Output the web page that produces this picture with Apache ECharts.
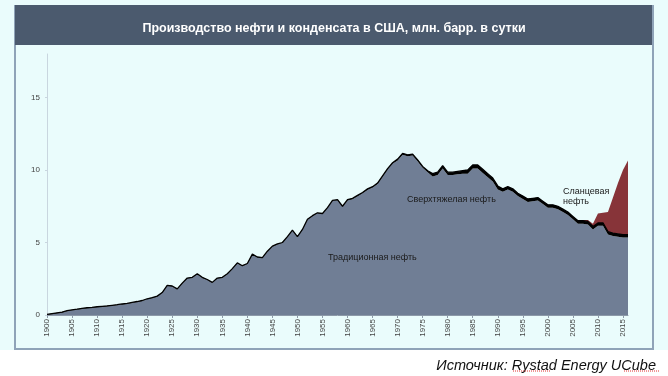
<!DOCTYPE html>
<html>
<head>
<meta charset="utf-8">
<script src="https://cdn.jsdelivr.net/npm/echarts@6/dist/echarts.min.js"></script>
<style>
  html, body { margin: 0; padding: 0; background: #ffffff; }
  #bg { position: absolute; left: 0; top: 0; width: 668px; height: 350px; background: #eafcfc; }
  #frame { position: absolute; left: 14px; top: 5px; width: 636px; height: 341px; border: 2px solid #8fa3b8; background: #eafcfc; }
  #bar { position: absolute; left: 15px; top: 5px; width: 637px; height: 40px; background: #4b5a6e; }
  #chart { position: absolute; left: 0; top: 0; width: 668px; height: 376px; }
</style>
</head>
<body>
<div id="bg"></div>
<div id="frame"></div>
<div id="bar"></div>
<div id="chart"></div>
<script>
  // годы 1900..2016
  var years = [];
  for (var y = 1900; y <= 2016; y++) years.push(String(y));

  // традиционная нефть, млн барр. в сутки
  var conventional = [
    0.01, 0.06, 0.11, 0.16, 0.26, 0.32, 0.36, 0.41, 0.46, 0.49,
    0.53, 0.56, 0.59, 0.63, 0.67, 0.72, 0.76, 0.83, 0.89, 0.96,
    1.08, 1.16, 1.26, 1.51, 2.01, 1.96, 1.76, 2.16, 2.51, 2.56,
    2.81, 2.56, 2.41, 2.21, 2.51, 2.56, 2.81, 3.16, 3.56, 3.36,
    3.51, 4.16, 3.96, 3.91, 4.36, 4.71, 4.86, 4.96, 5.36, 5.81,
    5.36, 5.86, 6.56, 6.81, 7.01, 6.96, 7.36, 7.86, 7.91, 7.46,
    7.89, 7.99, 8.19, 8.39, 8.64, 8.79, 9.04, 9.54, 10.04, 10.44,
    10.65, 11.05, 10.95, 11.0, 10.6, 10.15, 9.85, 9.55, 9.65, 10.1,
    9.65, 9.65, 9.7, 9.75, 9.75, 10.1, 10.1, 9.8, 9.5, 9.2,
    8.65, 8.5, 8.65, 8.5, 8.2, 8.0, 7.8, 7.85, 7.9, 7.65,
    7.4, 7.4, 7.3, 7.1, 6.9, 6.6, 6.3, 6.3, 6.25, 5.9,
    6.15, 6.15, 5.55, 5.45, 5.4, 5.35, 5.35
  ];

  // сверхтяжелая нефть
  var extraHeavy = [
    0.04, 0.04, 0.04, 0.04, 0.04, 0.04, 0.04, 0.04, 0.04, 0.04,
    0.04, 0.04, 0.04, 0.04, 0.04, 0.04, 0.04, 0.04, 0.04, 0.04,
    0.04, 0.04, 0.04, 0.04, 0.04, 0.04, 0.04, 0.04, 0.04, 0.04,
    0.04, 0.04, 0.04, 0.04, 0.04, 0.04, 0.04, 0.04, 0.04, 0.04,
    0.04, 0.04, 0.04, 0.04, 0.04, 0.04, 0.04, 0.04, 0.04, 0.04,
    0.04, 0.04, 0.04, 0.04, 0.04, 0.04, 0.04, 0.04, 0.04, 0.04,
    0.06, 0.06, 0.06, 0.06, 0.06, 0.06, 0.06, 0.06, 0.06, 0.06,
    0.1, 0.1, 0.1, 0.1, 0.1, 0.1, 0.1, 0.2, 0.2, 0.2,
    0.2, 0.2, 0.2, 0.2, 0.25, 0.25, 0.25, 0.25, 0.25, 0.25,
    0.25, 0.2, 0.2, 0.2, 0.2, 0.2, 0.2, 0.2, 0.2, 0.2,
    0.2, 0.2, 0.2, 0.2, 0.2, 0.2, 0.2, 0.2, 0.2, 0.2,
    0.2, 0.2, 0.2, 0.2, 0.2, 0.2, 0.2
  ];

  // сланцевая нефть (с 2006 г.)
  var shale = [
    0, 0, 0, 0, 0, 0, 0, 0, 0, 0,
    0, 0, 0, 0, 0, 0, 0, 0, 0, 0,
    0, 0, 0, 0, 0, 0, 0, 0, 0, 0,
    0, 0, 0, 0, 0, 0, 0, 0, 0, 0,
    0, 0, 0, 0, 0, 0, 0, 0, 0, 0,
    0, 0, 0, 0, 0, 0, 0, 0, 0, 0,
    0, 0, 0, 0, 0, 0, 0, 0, 0, 0,
    0, 0, 0, 0, 0, 0, 0, 0, 0, 0,
    0, 0, 0, 0, 0, 0, 0, 0, 0, 0,
    0, 0, 0, 0, 0, 0, 0, 0, 0, 0,
    0, 0, 0, 0, 0, 0, 0.03, 0.05, 0.1, 0.2,
    0.65, 0.7, 1.35, 2.45, 3.5, 4.45, 5.1
  ];

  var yTicks = [0, 5, 10, 15];

  var chart = echarts.init(document.getElementById('chart'), null, { renderer: 'canvas' });
  chart.setOption({
    backgroundColor: 'transparent',
    animation: false,
    textStyle: { fontFamily: 'Liberation Sans' },
    title: [{
      text: 'Производство нефти и конденсата в США, млн. барр. в сутки',
      left: 'center',
      top: 17,
      textStyle: { color: '#ffffff', fontSize: 12.5, fontWeight: 'bold', fontFamily: 'Liberation Sans' }
    }, {
      text: 'Источник: Rystad Energy UCube',
      right: 7,
      top: 353,
      textStyle: { color: '#111111', fontSize: 14.5, fontStyle: 'italic', fontWeight: 'normal', fontFamily: 'Liberation Sans' }
    }],
    grid: { left: 47, right: 40, top: 54, bottom: 61, containLabel: false },
    xAxis: {
      type: 'category',
      data: years,
      boundaryGap: false,
      axisLine: { lineStyle: { color: '#8c99a8', width: 1 } },
      axisTick: { show: true, interval: 4, length: 3, lineStyle: { color: '#8c99a8' } },
      axisLabel: { interval: 4, rotate: 90, fontSize: 8, color: '#444444', margin: 4 }
    },
    yAxis: {
      type: 'value',
      min: 0,
      max: 18,
      interval: 5,
      splitLine: { show: false },
      axisLine: { show: true, lineStyle: { color: '#c9d6df' } },
      axisTick: { show: true, length: 2, lineStyle: { color: '#c9d6df' } },
      axisLabel: {
        fontSize: 8, color: '#444444', margin: 7, showMaxLabel: false,
        formatter: function (v) { return yTicks.indexOf(v) >= 0 ? String(v) : ''; }
      }
    },
    series: [{
      name: 'Традиционная нефть',
      type: 'line',
      stack: 'total',
      data: conventional,
      symbol: 'none',
      lineStyle: { width: 0 },
      areaStyle: { color: '#707e95', opacity: 1 }
    }, {
      name: 'Сверхтяжелая нефть',
      type: 'line',
      stack: 'total',
      data: extraHeavy,
      symbol: 'none',
      lineStyle: { width: 1.3, color: '#000000' },
      areaStyle: { color: '#000000', opacity: 1 }
    }, {
      name: 'Сланцевая нефть',
      type: 'line',
      stack: 'total',
      data: shale,
      symbol: 'none',
      lineStyle: { width: 0 },
      areaStyle: { color: '#873439', opacity: 1 }
    }],
    graphic: [{
      type: 'text', left: 328, top: 253, z: 100,
      style: { text: 'Традиционная нефть', fontSize: 9, fill: '#1a1a1a', fontFamily: 'Liberation Sans' }
    }, {
      type: 'text', left: 407, top: 195, z: 100,
      style: { text: 'Сверхтяжелая нефть', fontSize: 9, fill: '#1a1a1a', fontFamily: 'Liberation Sans' }
    }, {
      type: 'text', left: 563, top: 187, z: 100,
      style: { text: 'Сланцевая\nнефть', fontSize: 9, lineHeight: 10, fill: '#1a1a1a', fontFamily: 'Liberation Sans' }
    }, {
      type: 'line', z: 100, shape: { x1: 513, y1: 371, x2: 550, y2: 371 },
      style: { stroke: '#e03030', lineWidth: 1, lineDash: [1, 1] }
    }, {
      type: 'line', z: 100, shape: { x1: 624, y1: 371, x2: 660, y2: 371 },
      style: { stroke: '#e03030', lineWidth: 1, lineDash: [1, 1] }
    }]
  });
</script>
</body>
</html>
